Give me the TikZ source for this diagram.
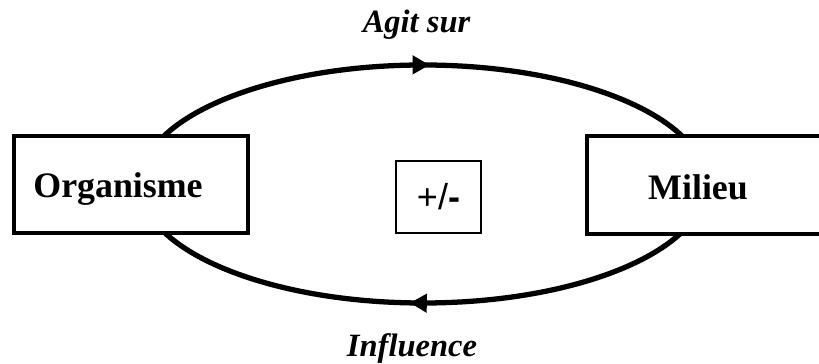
\documentclass[tikz,border=0pt]{standalone}
\usepackage{fontspec}
\setmainfont{Liberation Serif}
\newfontfamily\pmfont{Liberation Sans}
\usetikzlibrary{arrows.meta,decorations.markings}
\tikzstyle{bordered} = [draw,line width=2.2pt,outer sep=0,inner sep=0]
\tikzstyle{boxtext} = [font=\fontsize{20.4}{24}\selectfont\bfseries,anchor=base,inner sep=0]
\tikzstyle{loopline} = [line width=3pt]
\tikzstyle{caption} = [font=\fontsize{18.5}{22}\selectfont\bfseries\itshape,anchor=base,inner sep=0]

\begin{document}
\begin{tikzpicture}
    \useasboundingbox (0,0) rectangle (16.38,7.28);
    \coordinate (c) at (8.46,3.6);

    % feedback loop
    \draw [loopline,postaction={decorate},decoration={markings,
        mark=at position 0.51 with {\arrow{Triangle[length=0.34cm,width=0.36cm]}}}]
        (c) ++(-5.66,0) arc (180:0:5.66 and 2.38);
    \draw [loopline,postaction={decorate},decoration={markings,
        mark=at position 0.52 with {\arrow{Triangle[length=0.34cm,width=0.36cm]}}}]
        (c) ++(5.66,0) arc (0:-180:5.66 and 2.38);

    \node [bordered,fill=white,minimum width=4.68cm,minimum height=1.94cm] (org) at (2.62,3.59) {};
    \node [bordered,fill=white,minimum width=5.06cm,minimum height=1.96cm] (mil) at (14.27,3.58) {};
    \node [draw,line width=1.1pt,fill=white,minimum width=1.7cm,minimum height=1.44cm,
        font=\pmfont\fontsize{20.5}{24}\selectfont] (pm) at (8.77,3.34) {+/\textbf{-}};

    \node [boxtext] (orgtext) at (2.36,3.32) {Organisme};
    \node [boxtext] (miltext) at (13.96,3.29) {Milieu};

    \node [caption] (agit) at (8.33,6.62) {Agit sur};
    \node [caption] (infl) at (8.24,0.14) {Influence};
\end{tikzpicture}
\end{document}
